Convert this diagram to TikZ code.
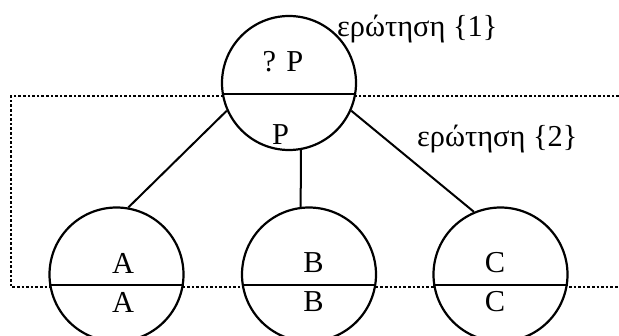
\documentclass[tikz,border=0pt]{standalone}
\usepackage{fontspec}
\setmainfont{Liberation Serif}
\usepackage{tikz}
\usetikzlibrary{calc}
\tikzset{
  qcircle/.style={circle, draw=black, fill=white, line width=1.1pt, minimum size=67pt, inner sep=0pt},
  chordline/.style={line width=1.1pt, draw=black},
  linkline/.style={line width=1pt, draw=black},
  dotline/.style={line width=1.3pt, draw=black, dash pattern=on 1.3pt off 1pt},
  lbl/.style={font=\fontsize{15.2}{17}\selectfont, inner sep=0pt},
}
\begin{document}
\begin{tikzpicture}[x=0.5pt,y=-0.5pt]
  \useasboundingbox (0,0) rectangle (619,336);

  % dotted frame (open on the right)
  \coordinate (tr) at (619,96);
  \coordinate (tl) at (11,96);
  \coordinate (bl) at (11,287);
  \coordinate (br) at (619,287);
  \draw[dotline] (tr) -- (tl) -- (bl) -- (br);

  \node[qcircle] (q) at (289,83) {};
  \node[qcircle] (a) at (116.5,274.5) {};
  \node[qcircle] (b) at (309,274.5) {};
  \node[qcircle] (c) at (500.5,274.5) {};

  \foreach \n in {q,a,b,c} { \draw[chordline] (\n.189) -- (\n.-9); }

  \draw[linkline] (q.204) -- (a.80);
  \draw[linkline] (q.-80.5) -- (b.97.7);
  \draw[linkline] (q.-24) -- (c.113);

  \node[lbl] (qtop) at (283,62) {? P};
  \node[lbl] (qbot) at (280.5,135) {P};
  \node[lbl] (atop) at (123,263) {A};
  \node[lbl] (abot) at (123,302) {A};
  \node[lbl] (btop) at (313.5,263) {B};
  \node[lbl] (bbot) at (313.5,302) {B};
  \node[lbl] (ctop) at (495,263) {C};
  \node[lbl] (cbot) at (495,302) {C};

  \node[lbl, anchor=base west] (ask1) at (336.7,36.7) {ερώτηση \{1\}};
  \node[lbl, anchor=base west] (ask2) at (416.7,146.7) {ερώτηση \{2\}};
\end{tikzpicture}
\end{document}
